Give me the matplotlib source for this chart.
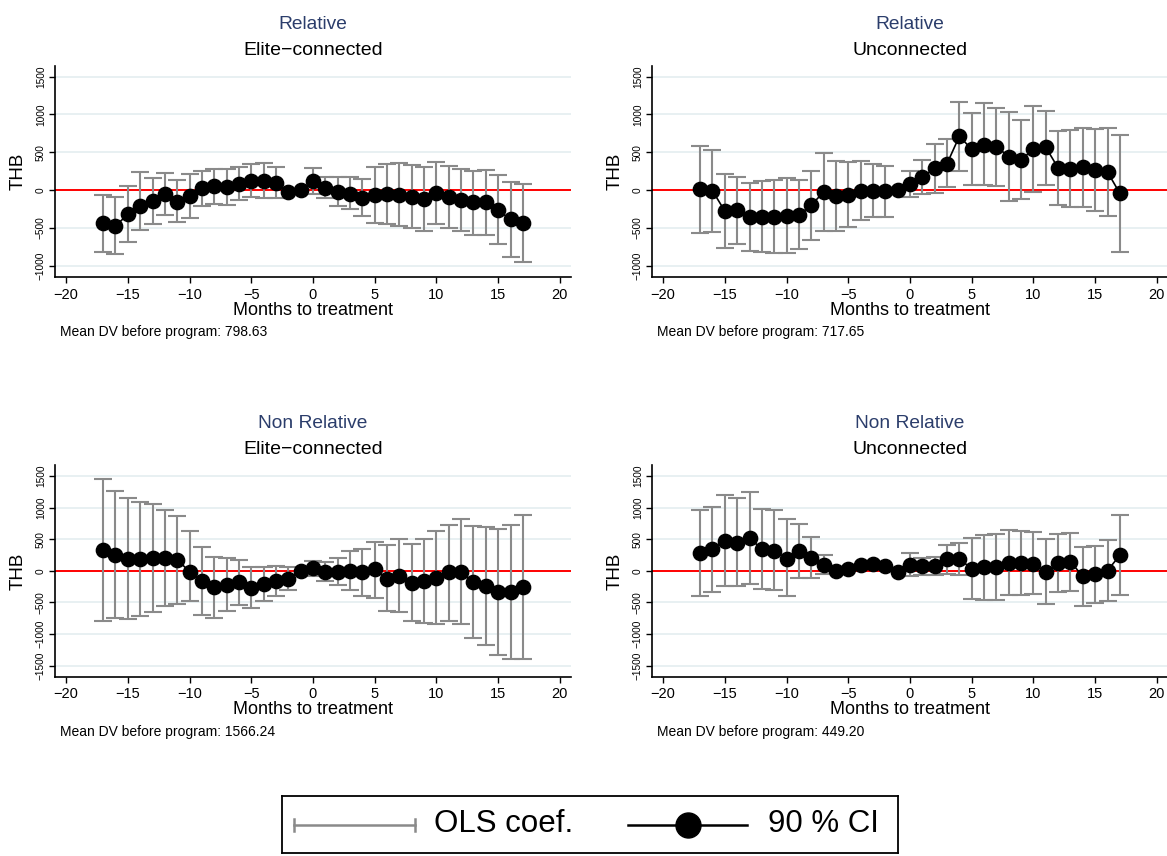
import numpy as np
import matplotlib
matplotlib.use("Agg")
import matplotlib.pyplot as plt
from matplotlib.lines import Line2D

plt.rcParams['font.family'] = ['Liberation Sans', 'DejaVu Sans']

nan = np.nan
months = list(range(-17, 18))

# Relative / Elite-connected
tl_coef = [-442, -473, -323, -208, -146, -53, -155, -80, 22, 53, 40, 84, 124, 124, 93, -27, 0,
           124, 31, -27, -49, -106, -62, -49, -62, -93, -115, -35, -93, -137, -164, -155, -270, -389, -442]
tl_lo = [-822, -844, -690, -526, -451, -327, -424, -367, -212, -186, -195, -137, -93, -106, -106, nan, nan,
         -57, -106, -212, -256, -349, -442, -455, -482, -504, -539, -446, -500, -548, -588, -592, -720, -884, -955]
tl_hi = [-66, -93, 53, 234, 155, 221, 128, 212, 248, 283, 283, 305, 345, 362, 300, nan, nan,
         287, 172, 168, 168, 141, 309, 345, 358, 327, 309, 376, 318, 274, 256, 261, 199, 110, 84]

# Relative / Unconnected
tr_coef = [9, -9, -278, -265, -362, -354, -354, -340, -332, -199, -27, -80, -66, -9, -9, -18, 0,
           80, 177, 287, 349, 712, 539, 601, 575, 442, 398, 544, 566, 292, 278, 301, 265, 239, -44]
tr_lo = [-566, -553, -760, -720, -809, -822, -831, -835, -778, -654, -544, -544, -495, -398, -354, -354, nan,
         -97, -57, -35, 35, 252, 66, 66, 57, -141, -124, -27, 71, -203, -221, -230, -278, -345, -822]
tr_hi = [588, 530, 208, 177, 88, 124, 137, 159, 133, 252, 491, 389, 367, 380, 345, 323, nan,
         252, 398, 606, 672, 1167, 1025, 1145, 1087, 1030, 928, 1118, 1052, 787, 791, 822, 809, 822, 734]

# Non Relative / Elite-connected
bl_coef = [332, 253, 184, 184, 205, 200, 174, -11, -153, -258, -221, -184, -268, -205, -158, -121, 0,
           42, -21, -21, 5, -26, 26, -126, -79, -195, -158, -116, -26, -16, -179, -247, -342, -337, -258]
bl_lo = [-800, -742, -763, -721, -653, -563, -521, -474, -700, -747, -637, -547, -595, -474, -395, -305, nan,
         -89, -163, -216, -300, -405, -432, -637, -653, -800, -826, -837, -800, -842, -1058, -1168, -1337, -1395, -1400]
bl_hi = [1453, 1258, 1153, 1095, 1063, 958, 868, 637, 384, 221, 205, 174, 58, 68, 79, 53, nan,
         158, 147, 211, 316, 347, 463, 405, 505, 432, 505, 632, 726, 816, 705, 689, 658, 726, 889]

# Non Relative / Unconnected
br_coef = [279, 342, 479, 447, 521, 342, 321, 195, 321, 210, 95, 5, 37, 95, 105, 84, -11,
           95, 79, 79, 184, 189, 32, 53, 58, 126, 126, 116, -21, 121, 147, -89, -53, 5, 247]
br_lo = [-395, -342, -247, -242, -211, -289, -300, -405, -116, -111, -53, nan, nan, nan, nan, nan, nan,
         -89, -63, -68, -53, -63, -447, -463, -458, -389, -379, -368, -532, -337, -316, -553, -511, -474, -389]
br_hi = [963, 1016, 1200, 1158, 1253, 979, 958, 826, 747, 542, 247, nan, nan, nan, nan, nan, nan,
         284, 210, 226, 410, 437, 516, 568, 579, 647, 637, 621, 505, 584, 605, 384, 400, 489, 884]

group_titles = ["Relative", "Relative", "Non Relative", "Non Relative"]
sub_titles = ["Elite\u2212connected", "Unconnected", "Elite\u2212connected", "Unconnected"]
mean_dv = ["798.63", "717.65", "1566.24", "449.20"]
top_yticks = [-1000, -500, 0, 500, 1000, 1500]
bot_yticks = [-1500, -1000, -500, 0, 500, 1000, 1500]
xticks = [-20, -15, -10, -5, 0, 5, 10, 15, 20]
legend_labels = ["OLS coef.", "90 % CI"]

W, H = 1167, 856
fig = plt.figure(figsize=(W / 100, H / 100), dpi=100)


def rect(x0, y0, x1, y1):
    return [x0 / W, 1 - y1 / H, (x1 - x0) / W, (y1 - y0) / H]


GRAY = '#8a8a8a'
TITLE_BLUE = '#2b3d6b'

panels = [
    (rect(55, 65.7, 571, 277.3), tl_coef, tl_lo, tl_hi, (-1154, 1645), top_yticks),
    (rect(652, 65.7, 1168, 277.3), tr_coef, tr_lo, tr_hi, (-1154, 1645), top_yticks),
    (rect(55, 465, 571, 676.7), bl_coef, bl_lo, bl_hi, (-1674, 1674), bot_yticks),
    (rect(652, 465, 1168, 676.7), br_coef, br_lo, br_hi, (-1674, 1674), bot_yticks),
]
px_left = [55, 652, 55, 652]
px_top = [65.7, 65.7, 465, 465]
px_bot = [277.3, 277.3, 676.7, 676.7]

for i, (r, coef, lo, hi, ylim, yt) in enumerate(panels):
    ax = fig.add_axes(r)
    x = np.array(months, dtype=float)
    c = np.array(coef, dtype=float)
    l = np.array(lo, dtype=float)
    h = np.array(hi, dtype=float)
    for t in yt:
        ax.axhline(t, color='#e6eff1', lw=1.3, zorder=0)
    ax.axhline(0, color='#ff0000', lw=1.4, zorder=1.5)
    ax.errorbar(x, c, yerr=[c - l, h - c], fmt='none', ecolor=GRAY, elinewidth=1.5,
                capsize=6.5, capthick=1.5, zorder=2)
    ax.plot(x, c, color='black', lw=1.2, marker='o', markersize=10.3,
            markerfacecolor='black', markeredgecolor='black', zorder=3)
    ax.set_xlim(-20.9, 20.9)
    ax.set_ylim(*ylim)
    ax.set_xticks(xticks)
    ax.set_yticks(yt)
    ax.tick_params(axis='x', labelsize=10.5, length=4.5, width=1, pad=3, direction='out')
    ax.tick_params(axis='y', labelsize=7.3, length=4, width=1, pad=2.5, direction='out',
                   labelrotation=90)
    for lab in ax.get_yticklabels():
        lab.set_va('center')
    for s in ['top', 'right']:
        ax.spines[s].set_visible(False)
    for s in ['left', 'bottom']:
        ax.spines[s].set_linewidth(1.2)
    ax.set_facecolor('white')

    xc = px_left[i] + 258
    fig.text(xc / W, 1 - (px_top[i] - 41.5) / H, group_titles[i], ha='center', va='center',
             fontsize=13.8, color=TITLE_BLUE)
    fig.text(xc / W, 1 - (px_top[i] - 15) / H, sub_titles[i], ha='center', va='center',
             fontsize=14, color='black')
    fig.text(xc / W, 1 - (px_bot[i] + 33) / H, "Months to treatment", ha='center', va='center',
             fontsize=13, color='black')
    fig.text((px_left[i] + 5) / W, 1 - (px_bot[i] + 55) / H,
             "Mean DV before program: " + mean_dv[i], ha='left', va='center',
             fontsize=10, color='black')
    fig.text((px_left[i] - 37) / W, 1 - ((px_top[i] + px_bot[i]) / 2) / H, "THB",
             ha='center', va='center', rotation=90, fontsize=13.5, color='black')

# Legend box
lx0, ly0, lx1, ly1 = 282, 796, 898, 853
lax = fig.add_axes(rect(lx0, ly0, lx1, ly1))
lax.set_xlim(0, lx1 - lx0)
lax.set_ylim(0, ly1 - ly0)
lax.set_xticks([])
lax.set_yticks([])
for s in lax.spines.values():
    s.set_linewidth(1.3)
    s.set_color('black')
yc = (ly1 - ly0) / 2
lax.add_line(Line2D([12, 133], [yc, yc], color=GRAY, lw=1.8))
lax.add_line(Line2D([12, 12], [yc - 6, yc + 6], color=GRAY, lw=1.8))
lax.add_line(Line2D([133, 133], [yc - 6, yc + 6], color=GRAY, lw=1.8))
lax.text(152, yc, legend_labels[0], ha='left', va='center', fontsize=22.5)
lax.add_line(Line2D([346, 465], [yc, yc], color='black', lw=1.8))
lax.add_line(Line2D([406], [yc], marker='o', markersize=18, color='black'))
lax.text(486, yc, legend_labels[1], ha='left', va='center', fontsize=22.5)

fig.savefig("out.png", dpi=100, facecolor='white')
